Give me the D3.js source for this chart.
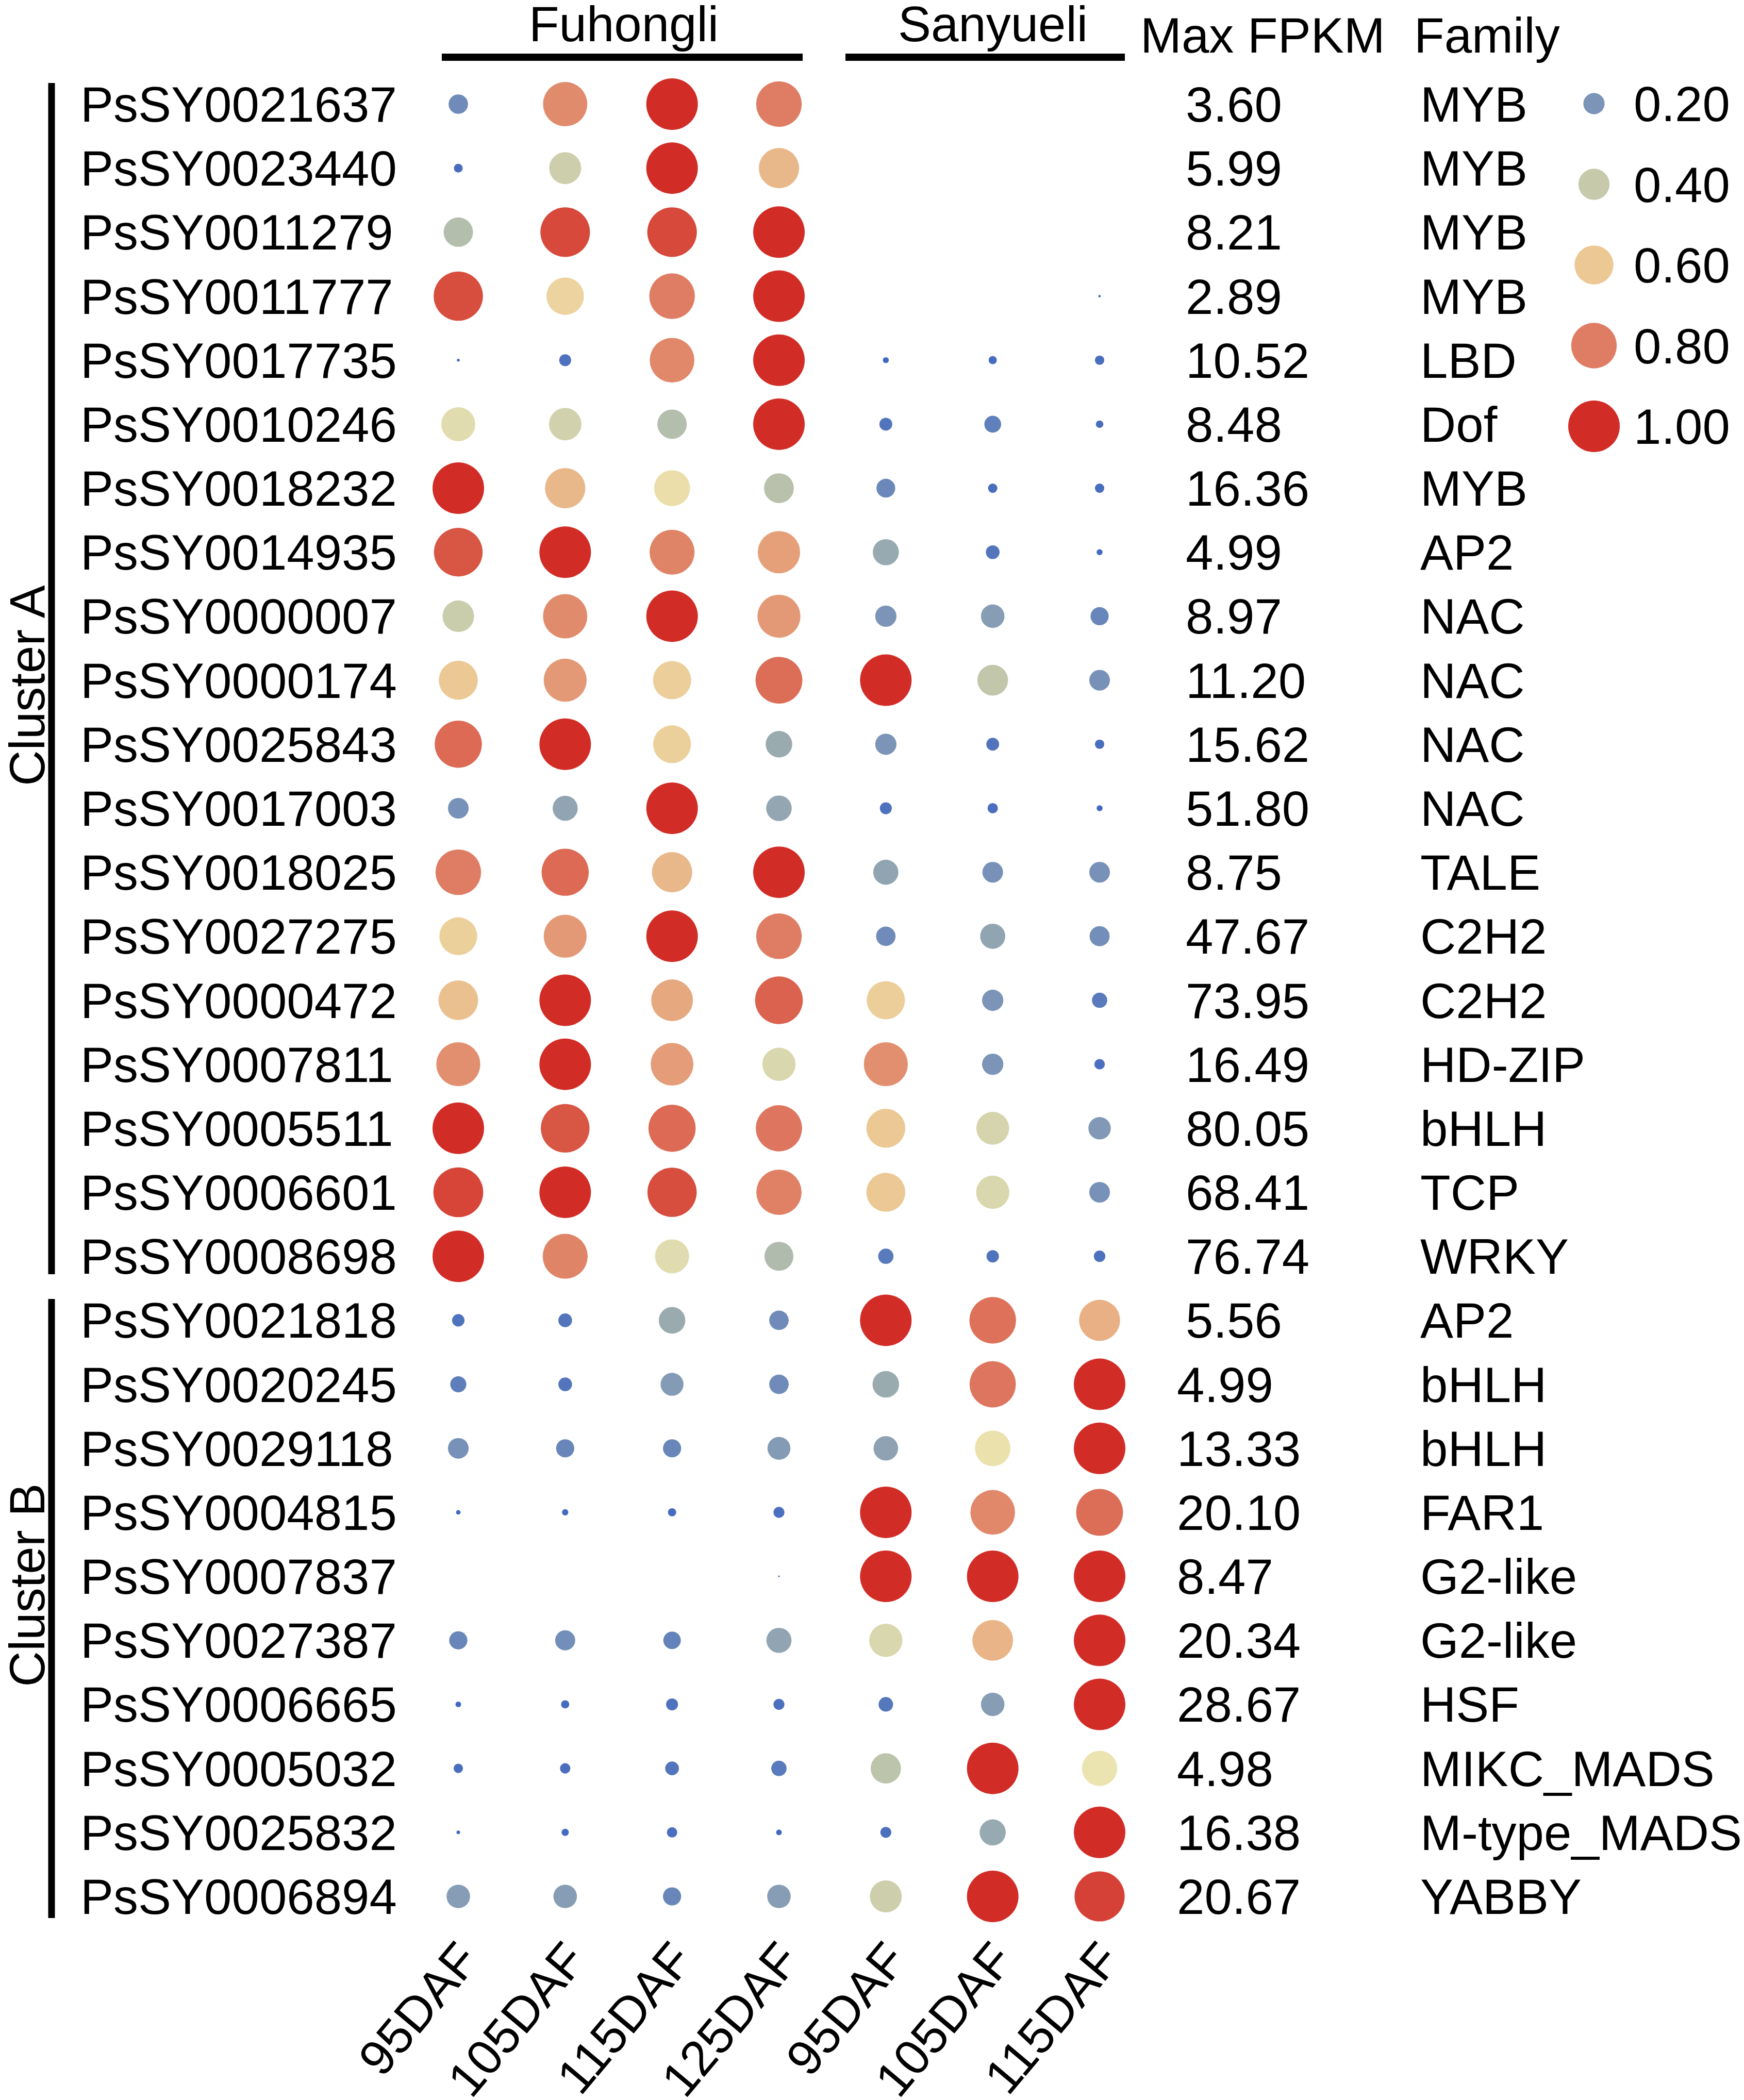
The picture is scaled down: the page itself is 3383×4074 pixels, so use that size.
<!DOCTYPE html>
<html>
<head>
<meta charset="utf-8">
<script src="https://cdn.jsdelivr.net/npm/d3@7"></script>
<style>
  body { margin: 0; background: #fff; }
  text { font-family: "Liberation Sans", Arial, sans-serif; fill: #000; }
</style>
</head>
<body>
<svg id="chart" width="3383" height="4074"></svg>
<script>
// gene ids, top to bottom
var genes = ['PsSY0021637','PsSY0023440','PsSY0011279','PsSY0011777','PsSY0017735','PsSY0010246',
  'PsSY0018232','PsSY0014935','PsSY0000007','PsSY0000174','PsSY0025843','PsSY0017003','PsSY0018025',
  'PsSY0027275','PsSY0000472','PsSY0007811','PsSY0005511','PsSY0006601','PsSY0008698',
  'PsSY0021818','PsSY0020245','PsSY0029118','PsSY0004815','PsSY0007837','PsSY0027387',
  'PsSY0006665','PsSY0005032','PsSY0025832','PsSY0006894'];
var maxFpkm = ['3.60','5.99','8.21','2.89','10.52','8.48','16.36','4.99','8.97','11.20','15.62','51.80','8.75',
  '47.67','73.95','16.49','80.05','68.41','76.74','5.56','4.99','13.33','20.10','8.47','20.34',
  '28.67','4.98','16.38','20.67'];
var family = ['MYB','MYB','MYB','MYB','LBD','Dof','MYB','AP2','NAC','NAC','NAC','NAC','TALE',
  'C2H2','C2H2','HD-ZIP','bHLH','TCP','WRKY','AP2','bHLH','bHLH','FAR1','G2-like','G2-like',
  'HSF','MIKC_MADS','M-type_MADS','YABBY'];
var clusterA = 19; // first 19 genes are cluster A, the rest cluster B

// sample columns
var timepoints = ['95DAF','105DAF','115DAF','125DAF','95DAF','105DAF','115DAF'];
var cultivars = ['Fuhongli', 'Sanyueli'];

// relative expression (0-1), Fuhongli 95/105/115/125, Sanyueli 95/105/115
var expr = [
  [0.17,0.76,1.00,0.80, 0,    0,    0],
  [0.04,0.42,1.00,0.64, 0,    0,    0],
  [0.36,0.93,0.93,1.00, 0,    0,    0],
  [0.92,0.56,0.80,1.00, 0,    0,    0.004],
  [0.005,0.07,0.77,1.00,0.02, 0.035,0.045],
  [0.47,0.43,0.36,1.00, 0.08, 0.13, 0.03],
  [1.00,0.64,0.52,0.37, 0.16, 0.045,0.045],
  [0.90,1.00,0.78,0.70, 0.29, 0.09, 0.02],
  [0.41,0.76,1.00,0.72, 0.20, 0.24, 0.15],
  [0.60,0.72,0.58,0.84, 1.00, 0.39, 0.19],
  [0.85,1.00,0.57,0.30, 0.20, 0.08, 0.045],
  [0.19,0.27,1.00,0.28, 0.07, 0.054,0.02],
  [0.80,0.85,0.64,1.00, 0.27, 0.19, 0.19],
  [0.57,0.72,1.00,0.80, 0.17, 0.27, 0.18],
  [0.62,1.00,0.68,0.87, 0.58, 0.20, 0.11],
  [0.75,1.00,0.71,0.45, 0.75, 0.20, 0.055],
  [1.00,0.90,0.85,0.82, 0.60, 0.44, 0.22],
  [0.94,1.00,0.92,0.79, 0.60, 0.45, 0.19],
  [1.00,0.78,0.47,0.35, 0.11, 0.075,0.065],
  [0.075,0.09,0.30,0.17,1.00, 0.83, 0.66],
  [0.12,0.09,0.23,0.17, 0.30, 0.82, 1.00],
  [0.19,0.15,0.15,0.23, 0.26, 0.51, 1.00],
  [0.012,0.022,0.036,0.06,1.00,0.77,0.84],
  [0,   0,   0,   0.002,1.00, 1.00, 1.00],
  [0.15,0.18,0.14,0.27, 0.45, 0.65, 1.00],
  [0.018,0.035,0.07,0.06,0.10,0.24, 1.00],
  [0.045,0.054,0.09,0.11,0.38,1.00, 0.50],
  [0.008,0.028,0.054,0.018,0.06,0.29,1.00],
  [0.24,0.24,0.15,0.24, 0.42, 1.00, 0.95]
];

var legendValues = [0.2, 0.4, 0.6, 0.8, 1.0];
var colorStops = [0, 0.1, 0.2, 0.3, 0.4, 0.5, 0.6, 0.7, 0.8, 0.9, 1.0];
var colorRange = ['#3f66c0','#5577bc','#7b94b8','#9aabb0','#c6caab','#ebe4b0',
                  '#ecc894','#e5a07a','#df7d64','#d85644','#d22c27'];

var svg = d3.select('#chart');
svg.append('rect').attr('width', 3383).attr('height', 4074).attr('fill', '#fff');

var x = d3.scalePoint().domain(d3.range(timepoints.length)).range([889, 2133]);
var y = d3.scalePoint().domain(genes).range([202, 3679]);
var r = d3.scalePow().exponent(0.55).domain([0, 1]).range([0, 50]);
var color = d3.scaleLinear().domain(colorStops).range(colorRange).interpolate(d3.interpolateRgb);

var fs = 96;

// dots
var cells = [];
expr.forEach(function(row, i) {
  row.forEach(function(v, j) { cells.push({gene: genes[i], col: j, v: v}); });
});
svg.append('g').selectAll('circle')
  .data(cells.filter(function(d) { return d.v > 0; }))
  .enter().append('circle')
    .attr('cx', function(d) { return x(d.col); })
    .attr('cy', function(d) { return y(d.gene); })
    .attr('r', function(d) { return r(d.v); })
    .attr('fill', function(d) { return color(d.v); });

// gene labels
svg.append('g').selectAll('text')
  .data(genes).enter().append('text')
    .attr('x', 156)
    .attr('y', function(d) { return y(d) + 34; })
    .style('font-size', fs + 'px')
    .text(function(d) { return d; });

// max FPKM + family columns
svg.append('g').selectAll('text')
  .data(maxFpkm).enter().append('text')
    .attr('x', function(d, i) { return i < clusterA + 1 ? 2300 : 2283; })
    .attr('y', function(d, i) { return y(genes[i]) + 34; })
    .style('font-size', fs + 'px')
    .text(function(d) { return d; });
svg.append('g').selectAll('text')
  .data(family).enter().append('text')
    .attr('x', 2755)
    .attr('y', function(d, i) { return y(genes[i]) + 34; })
    .style('font-size', fs + 'px')
    .text(function(d) { return d; });

// headers with the cultivar underlines
var headerBox = [
  {x1: 857, x2: 1557, tx: 1210},
  {x1: 1640, x2: 2182, tx: 1926}
];
cultivars.forEach(function(name, i) {
  var b = headerBox[i];
  svg.append('text').attr('x', b.tx).attr('y', 80)
    .attr('text-anchor', 'middle').style('font-size', fs + 'px').text(name);
  svg.append('line')
    .attr('x1', b.x1).attr('x2', b.x2)
    .attr('y1', 111).attr('y2', 111)
    .attr('stroke', '#000').attr('stroke-width', 14);
});
svg.append('text').attr('x', 2212).attr('y', 102).style('font-size', fs + 'px').text('Max FPKM');
svg.append('text').attr('x', 2743).attr('y', 102).style('font-size', fs + 'px').text('Family');

// cluster brackets
var clusters = [
  {name: 'Cluster A', y1: 161, y2: 2472, ty: 1330},
  {name: 'Cluster B', y1: 2520, y2: 3721, ty: 3075}
];
clusters.forEach(function(c) {
  svg.append('line').attr('x1', 100).attr('x2', 100).attr('y1', c.y1).attr('y2', c.y2)
    .attr('stroke', '#000').attr('stroke-width', 13);
  svg.append('text')
    .attr('transform', 'translate(86,' + c.ty + ') rotate(-90)')
    .attr('text-anchor', 'middle').style('font-size', fs + 'px').text(c.name);
});

// column labels (rotated)
svg.append('g').selectAll('text')
  .data(timepoints).enter().append('text')
    .attr('transform', function(d, i) { return 'translate(' + (x(i) + 44) + ',3804) rotate(-50)'; })
    .attr('text-anchor', 'end')
    .style('font-size', fs + 'px')
    .text(function(d) { return d; });

// size/colour legend
var lg = svg.append('g').selectAll('g')
  .data(legendValues).enter().append('g')
    .attr('transform', function(d, i) { return 'translate(3092,' + (201 + i * 156.5) + ')'; });
lg.append('circle')
  .attr('r', function(d) { return r(d); })
  .attr('fill', function(d) { return color(d); });
lg.append('text')
  .attr('x', 77).attr('y', 34)
  .style('font-size', fs + 'px')
  .text(function(d) { return d3.format('.2f')(d); });
</script>
</body>
</html>
